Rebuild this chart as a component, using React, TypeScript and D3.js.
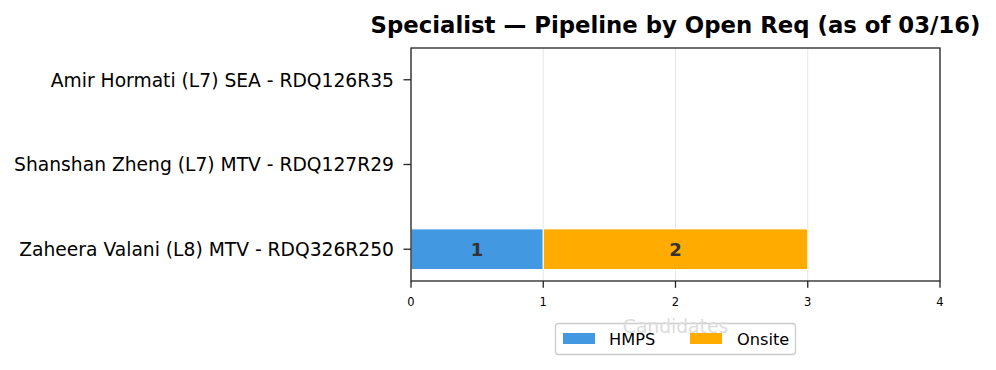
import React from "react";
import * as d3 from "d3";

const categories = [
  "Zaheera Valani (L8) MTV - RDQ326R250",
  "Shanshan Zheng (L7) MTV - RDQ127R29",
  "Amir Hormati (L7) SEA - RDQ126R35",
];
const hmps = [1, 0, 0];
const onsite = [2, 0, 0];
const xTicks = [0, 1, 2, 3, 4];
const seriesNames = ["HMPS", "Onsite"];
const seriesColors = ["#4299e1", "#ffab00"];

const W = 996, H = 370;
const left = 411, right = 940, top = 48, bottom = 281;
const FONT = "DejaVu Sans, sans-serif";

export default function App() {
  const x = d3.scaleLinear().domain([0, 4]).range([left, right]);
  const y = d3.scaleLinear().domain([-0.375, 2.375]).range([bottom, top]);
  const barH = y(0) - y(0.48);
  const stacked = categories.map((c, i) => {
    const vals = [hmps[i], onsite[i]];
    let acc = 0;
    return vals.map((v, k) => {
      const s = { x0: acc, x1: acc + v, v, k, i };
      acc += v;
      return s;
    });
  });
  return (
    <svg width={W} height={H} style={{ position: "absolute", left: 0, top: 0, background: "#fff" }} fontFamily={FONT}>
      {xTicks.map((t) => (
        <line key={"g" + t} x1={x(t)} x2={x(t)} y1={top} y2={bottom} stroke="#e6e6e6" strokeWidth={1} />
      ))}
      {stacked.map((segs, i) =>
        segs.filter((s) => s.v > 0).map((s) => (
          <g key={i + "-" + s.k}>
            <rect x={x(s.x0)} y={y(i) - barH / 2} width={x(s.x1) - x(s.x0)} height={barH}
              fill={seriesColors[s.k]} stroke="#fff" strokeWidth={1} />
            <text x={(x(s.x0) + x(s.x1)) / 2} y={y(i)} dy="0.36em" textAnchor="middle"
              fontSize={18} fontWeight="bold" fill="#333">{s.v}</text>
          </g>
        ))
      )}
      <rect x={left} y={top} width={right - left} height={bottom - top} fill="none" stroke="#222" strokeWidth={1.3} />
      {categories.map((c, i) => (
        <g key={c}>
          <line x1={left - 7.5} x2={left} y1={y(i)} y2={y(i)} stroke="#222" strokeWidth={1.3} />
          <text x={left - 17} y={y(i)} dy="0.36em" textAnchor="end" fontSize={18.7} fill="#000">{c}</text>
        </g>
      ))}
      {xTicks.map((t) => (
        <g key={"t" + t}>
          <line x1={x(t)} x2={x(t)} y1={bottom} y2={bottom + 6.8} stroke="#222" strokeWidth={1.3} />
          <text x={x(t)} y={305.5} textAnchor="middle" fontSize={11.5} fill="#000">{t}</text>
        </g>
      ))}
      <text x={(left + right) / 2} y={33} textAnchor="middle" fontSize={22.8} fontWeight="bold" fill="#000">
        Specialist — Pipeline by Open Req (as of 03/16)
      </text>
      <g>
        <rect x={555.5} y={323.5} width={240} height={31} rx={3} fill="#fff" fillOpacity={0.8} stroke="#ccc" strokeWidth={1.3} />
        <text x={(left + right) / 2} y={333} textAnchor="middle" fontSize={18.7} fill="#dcdcdc">Candidates</text>
        {seriesNames.map((n, k) => (
          <g key={n}>
            <rect x={563 + k * 127} y={333} width={32} height={11} fill={seriesColors[k]} />
            <text x={609 + k * 128} y={339} dy="0.36em" fontSize={16.2} fill="#000">{n}</text>
          </g>
        ))}
      </g>
    </svg>
  );
}
